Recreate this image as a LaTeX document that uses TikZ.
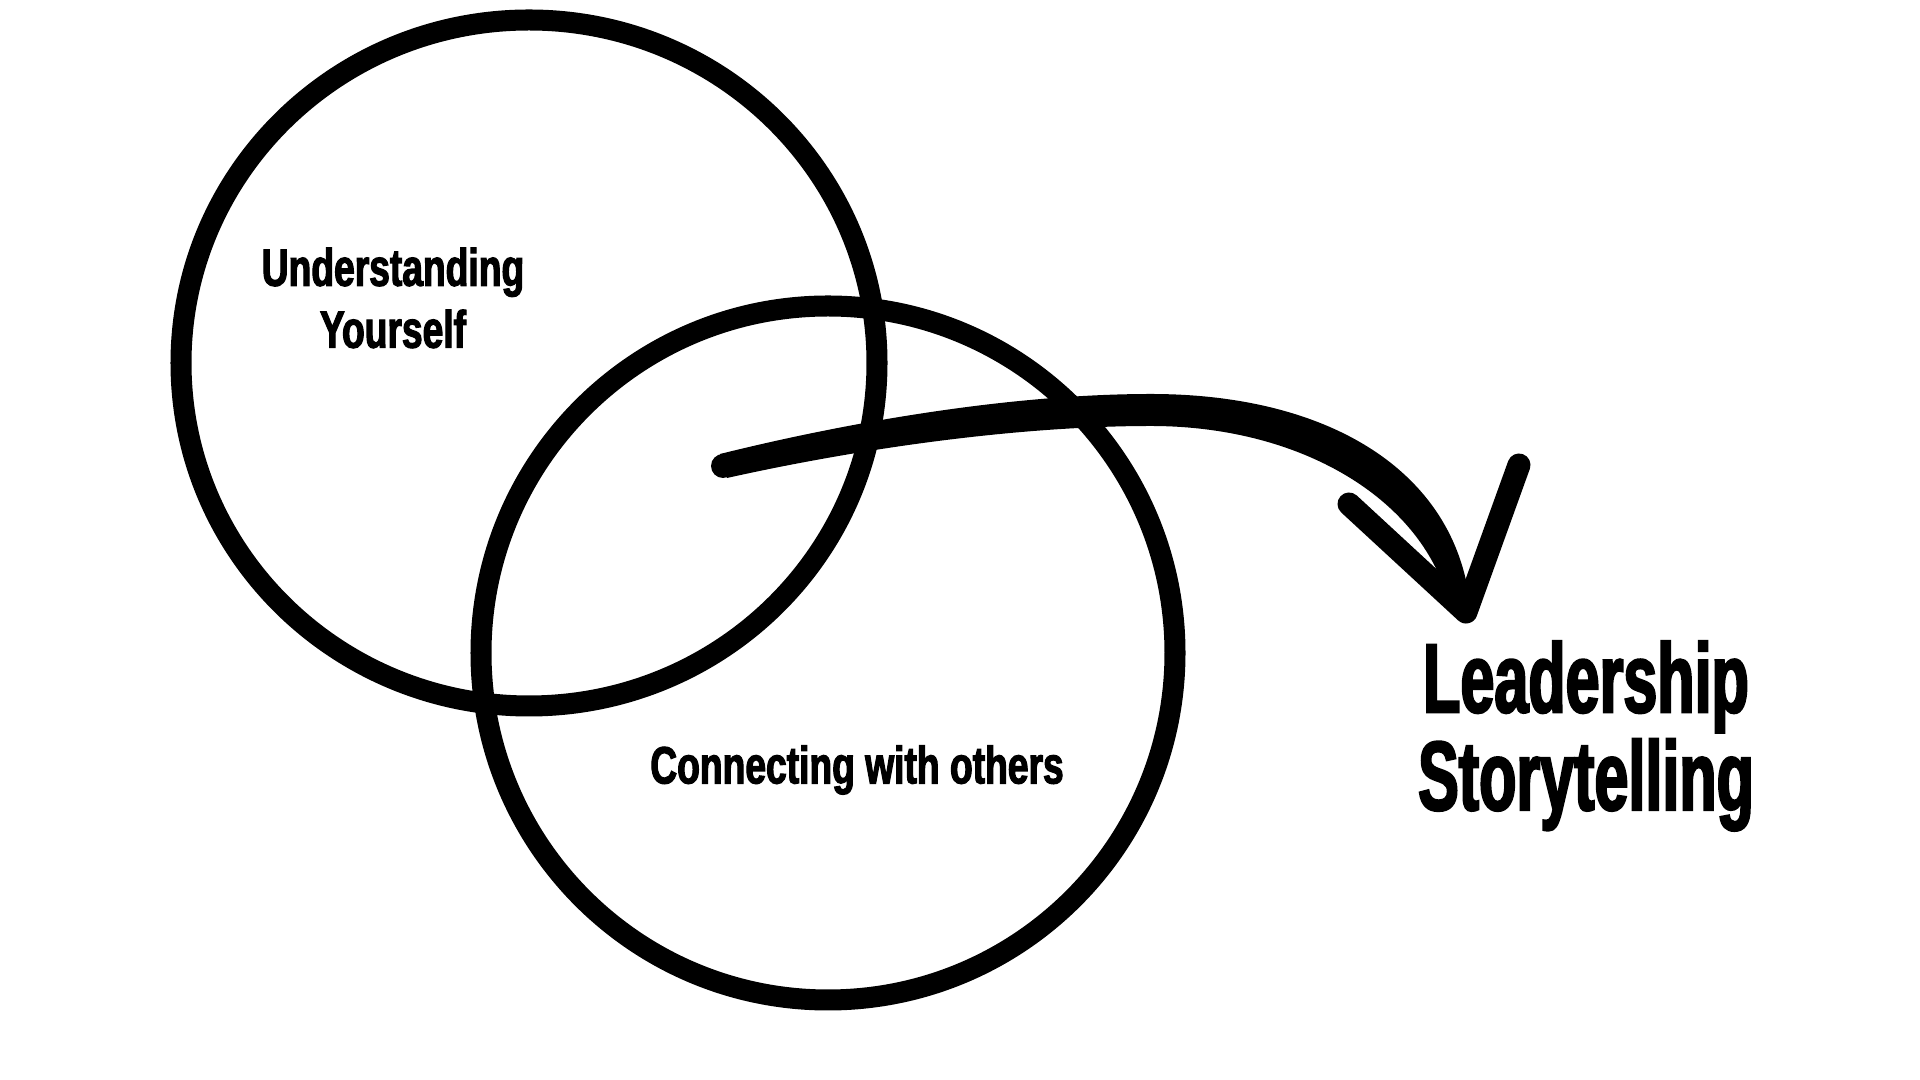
\documentclass[tikz,border=0pt]{standalone}
\usepackage{fontspec}
\newfontfamily\condsmall[FakeStretch=0.71,FakeBold=2.2,UprightFont={* Bold}]{Liberation Sans}
\newfontfamily\condbig[FakeStretch=0.62,FakeBold=2.2,UprightFont={* Bold}]{Liberation Sans}
\tikzset{
  ring/.style={draw=black, line width=0.21cm},
  stroke/.style={draw=black, line width=0.23cm, line cap=round, line join=round},
  smalltxt/.style={font=\condsmall\fontsize{14.9}{17.6}\selectfont, align=center, inner sep=0pt},
  bigtxt/.style={font=\condbig\fontsize{28}{27.8}\selectfont, align=center, inner sep=0pt}
}
\begin{document}
\begin{tikzpicture}[x=0.01cm, y=-0.01cm]
\useasboundingbox[fill=white] (0,0) rectangle (1920,1080);
% circles
\draw[ring] (529,363) ellipse [x radius=348, y radius=343];
\draw[ring] (828,653) ellipse [x radius=347, y radius=347];
% arrow body (tapered)
\fill[black] (720,454) .. controls (857,420) and (1016,394) .. (1151,394)
  .. controls (1330,394) and (1455,472) .. (1470,604)
  -- (1448,600)
  .. controls (1420,498) and (1300,426) .. (1151,426)
  .. controls (1016,426) and (857,449) .. (727,478) -- cycle;
\coordinate (start) at (723,466);
\fill[black] (start) circle (12);
% arrowhead
\coordinate (tip) at (1466,612);
\coordinate (hl) at (1349,504);
\coordinate (hr) at (1519,465);
\draw[stroke] (hl) -- (tip) -- (hr);
% labels
\node[smalltxt] (self) at (393,298) {Understanding\\Yourself};
\node[smalltxt] (others) at (857,770) {Connecting with others};
\node[bigtxt] (lead) at (1586,736) {Leadership\\Storytelling};
\end{tikzpicture}
\end{document}
